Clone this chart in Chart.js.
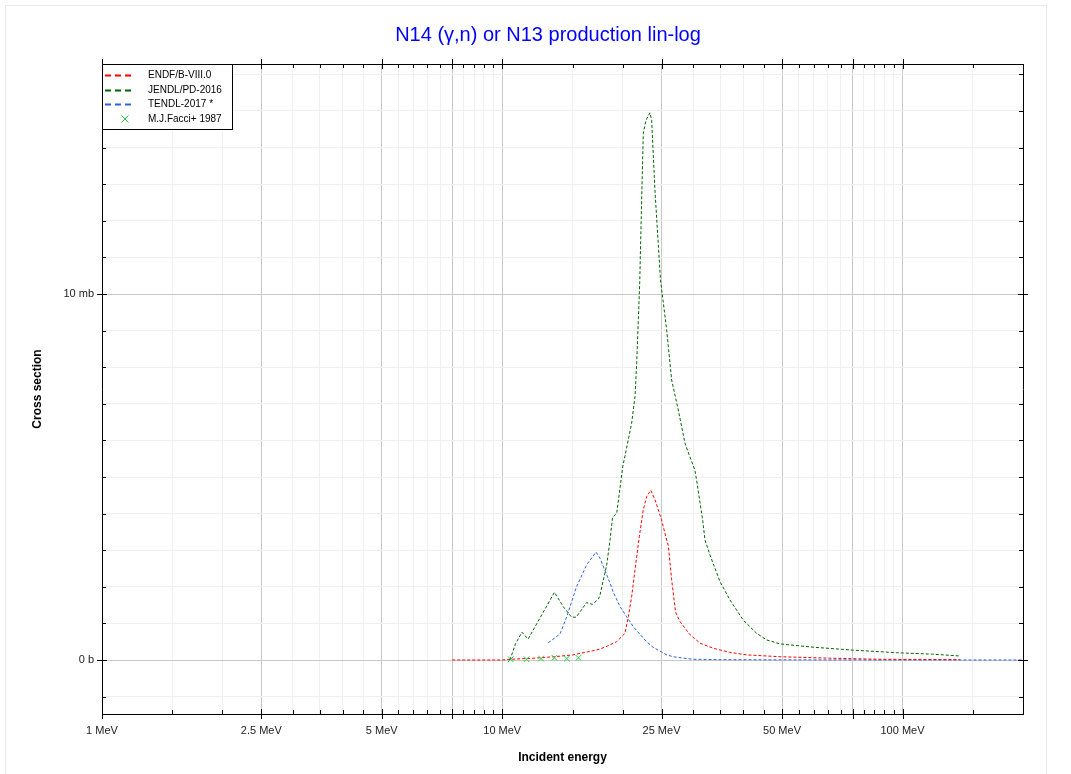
<!DOCTYPE html>
<html>
<head>
<meta charset="utf-8">
<script src="https://cdn.jsdelivr.net/npm/chart.js@4.4.0/dist/chart.umd.min.js"></script>
<style>
html,body{margin:0;padding:0;background:#fff;}
canvas{display:block;}
</style>
</head>
<body>
<canvas id="c" width="1071" height="774"></canvas>
<script>
// ---------------- DATA ----------------
const endfEnergy = [7.5, 10, 10.5, 12, 13.5, 15, 16.8, 17.55, 18.3, 19.3, 20.26, 20.65, 21.05, 21.46, 22.0, 22.5, 22.95, 23.5, 24.1, 25.0, 25.75, 26.0, 26.5, 27.1, 27.8, 29.4, 31.2, 33.7, 37.0, 40.8, 49.4, 65.8, 87.8, 139];
const endfXs     = [0, 0, 0.02, 0.05, 0.09, 0.14, 0.25, 0.30, 0.38, 0.50, 0.73, 1.18, 1.73, 2.46, 3.37, 4.10, 4.46, 4.64, 4.37, 3.83, 3.28, 3.12, 2.19, 1.31, 1.05, 0.70, 0.46, 0.32, 0.21, 0.14, 0.09, 0.05, 0.02, 0.01];

const jendlEnergy = [10.45, 10.8, 11.2, 11.6, 12.5, 13.5, 14.2, 14.9, 15.3, 16.25, 16.8, 17.4, 17.55, 18.24, 18.59, 18.86, 19.32, 20.0, 21.05, 21.46, 21.67, 22.05, 22.3, 22.51, 22.86, 23.39, 23.62, 24.07, 24.85, 25.75, 26.5, 27.53, 28.6, 29.43, 30.29, 30.58, 31.67, 32.1, 33.03, 35.0, 37.06, 40.0, 43.2, 45.75, 49.4, 59.8, 75.3, 96.6, 119, 139];
const jendlXs     = [0, 0.45, 0.76, 0.57, 1.2, 1.85, 1.46, 1.17, 1.17, 1.57, 1.52, 1.67, 1.78, 2.6, 3.28, 3.90, 4.01, 5.28, 6.47, 7.19, 8.11, 10.3, 12.57, 14.39, 14.75, 14.95, 14.75, 12.84, 10.38, 9.02, 7.65, 6.83, 5.93, 5.55, 5.19, 4.92, 3.83, 3.28, 2.87, 2.14, 1.64, 1.09, 0.73, 0.55, 0.44, 0.35, 0.27, 0.20, 0.16, 0.11];

const tendlEnergy = [13.03, 13.94, 14.49, 15.33, 16.25, 17.15, 17.55, 18.59, 18.94, 19.69, 20.46, 21.25, 22.09, 22.95, 23.8, 25.0, 25.75, 26.74, 28.88, 30.0, 35.0, 50, 100, 200];
const tendlXs     = [0.47, 0.71, 1.18, 2.0, 2.6, 2.95, 2.78, 2.10, 1.85, 1.46, 1.18, 0.91, 0.70, 0.50, 0.35, 0.22, 0.14, 0.09, 0.04, 0.02, 0.01, 0.005, 0.002, 0.001];

const facciEnergy = [10.5, 11.5, 12.5, 13.5, 14.5, 15.5];
const facciXs     = [0.02, 0.02, 0.04, 0.06, 0.04, 0.06];

const seriesLabels = ['ENDF/B-VIII.0', 'JENDL/PD-2016', 'TENDL-2017 *', 'M.J.Facci+ 1987'];

const xTickValues = [1,1.5,2,2.5,3,3.5,4,4.5,5,5.5,6,6.5,7,7.5,8,8.5,9,9.5,10,15,20,25,30,35,40,45,50,55,60,65,70,75,80,85,90,95,100,150,200];
const xTickLabels = {1:'1 MeV', 2.5:'2.5 MeV', 5:'5 MeV', 10:'10 MeV', 25:'25 MeV', 50:'50 MeV', 100:'100 MeV'};
const xMajor = [1,2.5,5,7.5,10,25,50,75,100];

const yTickValues = [-1,0,1,2,3,4,5,6,7,8,9,10,11,12,13,14,15,16];
const yTickLabels = {0:'0 b', 10:'10 mb'};
const yMajor = [0,10];

// --------------- CHART ----------------
const FONT = '"Liberation Sans", Arial, Helvetica, sans-serif';
Chart.defaults.font.family = FONT;
const pts = (xs, ys) => xs.map((x, i) => ({x: x, y: ys[i]}));

const colors = {endf:'#ff0000', jendl:'#006400', tendl:'#2f62e0', facci:'#22cc44'};

const bgPlugin = {
  id: 'bgFrame',
  beforeDraw(chart) {
    const ctx = chart.ctx;
    ctx.save();
    ctx.fillStyle = '#fff';
    ctx.fillRect(0, 0, chart.width, chart.height);
    ctx.strokeStyle = '#e8e8e8';
    ctx.lineWidth = 1;
    ctx.strokeRect(5.5, 5.5, 1041, 790);
    ctx.restore();
  }
};

const tickPlugin = {
  id: 'inwardTicks',
  afterDraw(chart) {
    const ctx = chart.ctx, a = chart.chartArea;
    ctx.save();
    ctx.strokeStyle = '#000';
    ctx.lineWidth = 1;
    const seg = (x1, y1, x2, y2) => { ctx.beginPath(); ctx.moveTo(x1, y1); ctx.lineTo(x2, y2); ctx.stroke(); };
    const xs = chart.scales.x;
    xs.ticks.forEach(t => {
      const px = Math.round(xs.getPixelForValue(t.value)) + 0.5;
      const maj = xMajor.includes(t.value);
      seg(px, a.bottom - (maj ? 5 : 4), px, a.bottom + (maj ? 5 : 0));
      seg(px, a.top + (maj ? 5 : 4), px, a.top - (maj ? 5 : 0));
    });
    const ys = chart.scales.y;
    ys.ticks.forEach(t => {
      const py = Math.round(ys.getPixelForValue(t.value)) + 0.5;
      const maj = yMajor.includes(t.value);
      seg(a.left - (maj ? 5 : 0), py, a.left + (maj ? 5 : 4), py);
      seg(a.right + (maj ? 5 : 0), py, a.right - (maj ? 5 : 4), py);
    });
    ctx.restore();
  }
};

const legendPlugin = {
  id: 'legendBox',
  afterDraw(chart) {
    const ctx = chart.ctx, a = chart.chartArea;
    const x0 = Math.round(a.left), y0 = Math.round(a.top);
    ctx.save();
    ctx.fillStyle = '#fff';
    ctx.fillRect(x0, y0, 131, 66);
    ctx.strokeStyle = '#000';
    ctx.lineWidth = 1;
    ctx.strokeRect(x0 + 0.5, y0 + 0.5, 130, 65);
    const rows = [11.5, 26.5, 40.5, 55];
    ctx.font = '10px ' + FONT;
    ctx.textBaseline = 'middle';
    ctx.textAlign = 'left';
    chart.data.datasets.forEach((ds, i) => {
      const yy = y0 + rows[i];
      if (ds.showLine) {
        ctx.strokeStyle = ds.borderColor;
        ctx.lineWidth = 2;
        ctx.setLineDash([6, 4]);
        ctx.beginPath();
        ctx.moveTo(x0 + 3, yy);
        ctx.lineTo(x0 + 30, yy);
        ctx.stroke();
        ctx.setLineDash([]);
      } else {
        ctx.strokeStyle = ds.borderColor;
        ctx.lineWidth = 1;
        const cx = x0 + 23, r = 3.5;
        ctx.beginPath();
        ctx.moveTo(cx - r, yy - r); ctx.lineTo(cx + r, yy + r);
        ctx.moveTo(cx + r, yy - r); ctx.lineTo(cx - r, yy + r);
        ctx.stroke();
      }
      ctx.fillStyle = '#000';
      ctx.fillText(ds.label, x0 + 46, yy);
    });
    ctx.restore();
  }
};

const setXTicks = s => { s.ticks = xTickValues.map(v => ({value: v})); };
const setYTicks = s => { s.ticks = yTickValues.map(v => ({value: v})); };
const Y_MIN = -1.475, Y_MAX = 16.284;

new Chart(document.getElementById('c'), {
  type: 'scatter',
  data: {
    datasets: [
      {label: seriesLabels[0], data: pts(endfEnergy, endfXs), showLine: true, borderColor: colors.endf, borderWidth: 1, borderDash: [3, 2], pointRadius: 0, tension: 0, order: 1},
      {label: seriesLabels[1], data: pts(jendlEnergy, jendlXs), showLine: true, borderColor: colors.jendl, borderWidth: 1, borderDash: [3, 2], pointRadius: 0, tension: 0, order: 2},
      {label: seriesLabels[2], data: pts(tendlEnergy, tendlXs), showLine: true, borderColor: colors.tendl, borderWidth: 1, borderDash: [3, 2], pointRadius: 0, tension: 0, order: 3},
      {label: seriesLabels[3], data: pts(facciEnergy, facciXs), showLine: false, borderColor: colors.facci, backgroundColor: colors.facci, pointStyle: 'crossRot', pointRadius: 4, pointBorderWidth: 1, order: 0}
    ]
  },
  options: {
    responsive: false,
    animation: false,
    devicePixelRatio: 1,
    layout: {padding: {left: 25, right: 0, top: 0, bottom: 0}},
    plugins: {
      legend: {display: false},
      tooltip: {enabled: false},
      title: {display: true, text: 'N14 (γ,n) or N13 production lin-log', color: '#0000ff', font: {family: FONT, size: 20, weight: 'normal'}, padding: {top: 23, bottom: 0}}
    },
    scales: {
      x: {
        type: 'logarithmic', position: 'bottom', min: 1, max: 200,
        afterBuildTicks: setXTicks,
        afterFit: s => { s.height = 60; },
        ticks: {autoSkip: false, maxRotation: 0, minRotation: 0, padding: 10, color: '#222', font: {size: 11}, callback: v => xTickLabels[v] ?? ''},
        grid: {drawTicks: false, lineWidth: 1, color: c => xMajor.includes(c.tick && c.tick.value) ? '#c8c8c8' : '#efefef'},
        border: {display: true, color: '#000', width: 1},
        title: {display: true, text: 'Incident energy', color: '#000', font: {size: 12, weight: 'bold'}, padding: {top: 4, bottom: 9}}
      },
      x2: {
        type: 'logarithmic', position: 'top', min: 1, max: 200,
        afterBuildTicks: setXTicks,
        afterFit: s => { s.height = 17; },
        ticks: {display: false},
        grid: {drawOnChartArea: false, drawTicks: false},
        border: {display: true, color: '#000', width: 1}
      },
      y: {
        type: 'linear', position: 'left', min: Y_MIN, max: Y_MAX,
        afterBuildTicks: setYTicks,
        afterFit: s => { s.width = 77; },
        ticks: {autoSkip: false, padding: 8, color: '#222', font: {size: 11}, callback: v => yTickLabels[v] ?? ''},
        grid: {drawTicks: false, lineWidth: 1, color: c => yMajor.includes(c.tick && c.tick.value) ? '#c8c8c8' : '#efefef'},
        border: {display: true, color: '#000', width: 1},
        title: {display: true, text: 'Cross section', color: '#000', font: {size: 12, weight: 'bold'}, padding: {top: 5, bottom: 4}}
      },
      y2: {
        type: 'linear', position: 'right', min: Y_MIN, max: Y_MAX,
        afterBuildTicks: setYTicks,
        afterFit: s => { s.width = 48; },
        ticks: {display: false},
        grid: {drawOnChartArea: false, drawTicks: false},
        border: {display: true, color: '#000', width: 1}
      }
    }
  },
  plugins: [bgPlugin, tickPlugin, legendPlugin]
});
</script>
</body>
</html>
